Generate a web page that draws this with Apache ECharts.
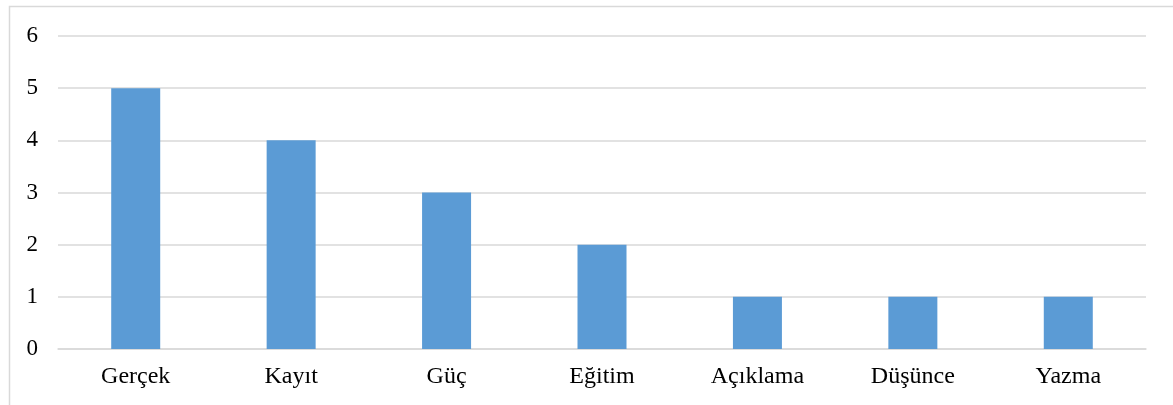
<!DOCTYPE html>
<html>
<head>
<meta charset="utf-8">
<script src="https://cdn.jsdelivr.net/npm/echarts@6/dist/echarts.min.js"></script>
<style>
  html, body { margin: 0; padding: 0; background: #ffffff; }
  #chart { width: 1173px; height: 405px; }
</style>
</head>
<body>
<div id="chart"></div>
<script>
// Categories and counts
const categories = ['Gerçek', 'Kayıt', 'Güç', 'Eğitim', 'Açıklama', 'Düşünce', 'Yazma'];
const counts = [5, 4, 3, 2, 1, 1, 1];
const yTicks = { min: 0, max: 6, interval: 1 };

const chart = echarts.init(document.getElementById('chart'), null, { renderer: 'canvas' });
const font = '"Liberation Serif", "Times New Roman", serif';

chart.setOption({
  animation: false,
  backgroundColor: '#ffffff',
  graphic: [{
    type: 'rect',
    shape: { x: 9.5, y: 6.5, width: 1200, height: 500 },
    style: { fill: 'none', stroke: '#d9d9d9', lineWidth: 1.5 },
    silent: true
  }],
  grid: { left: 58, right: 27, top: 36, bottom: 56, containLabel: false },
  xAxis: {
    type: 'category',
    data: categories,
    axisLine: { show: true, lineStyle: { color: '#d9d9d9', width: 1.5 } },
    axisTick: { show: false },
    axisLabel: { color: '#000000', fontFamily: font, fontSize: 24, margin: 16 }
  },
  yAxis: {
    type: 'value',
    min: yTicks.min,
    max: yTicks.max,
    interval: yTicks.interval,
    axisLine: { show: false },
    axisTick: { show: false },
    splitLine: { lineStyle: { color: '#d9d9d9', width: 1.5 } },
    axisLabel: { color: '#000000', fontFamily: font, fontSize: 23, margin: 20 }
  },
  series: [{
    type: 'bar',
    data: counts,
    barWidth: 49,
    itemStyle: { color: '#5b9bd5' }
  }]
});
</script>
</body>
</html>
